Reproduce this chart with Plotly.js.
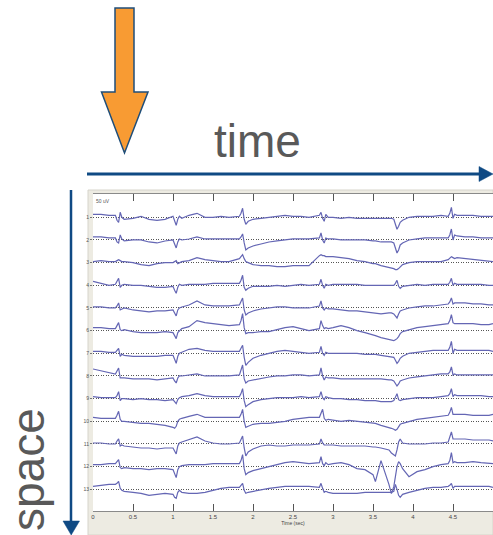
<!DOCTYPE html>
<html>
<head>
<meta charset="utf-8">
<script src="https://cdn.plot.ly/plotly-3.0.1.min.js"></script>
<style>html,body{margin:0;padding:0;background:#fff;overflow:hidden}#chart{width:493px;height:535px}</style>
</head>
<body>
<div id="chart"></div>
<script>
// ---- data (time in sec, signals in display units, up = positive) ----
const T = [0, 0.1, 0.2,
 0.28, 0.30, 0.32, 0.34, 0.36, 0.39,
 0.5, 0.6, 0.7, 0.8, 0.9,
 1.00, 1.02, 1.04, 1.06, 1.08, 1.11,
 1.2, 1.3, 1.4, 1.5, 1.6, 1.7,
 1.83, 1.85, 1.87, 1.89, 1.91, 1.94,
 2.0, 2.1, 2.2, 2.3, 2.4, 2.5, 2.6, 2.7,
 2.83, 2.85, 2.87, 2.89, 2.91, 2.94,
 3.0, 3.1, 3.2, 3.3, 3.4, 3.5, 3.53, 3.6, 3.7, 3.73,
 3.76, 3.78, 3.80, 3.82, 3.84, 3.87,
 3.95, 4.05, 4.15, 4.25, 4.35,
 4.44, 4.46, 4.48, 4.50, 4.52, 4.55,
 4.65, 4.75, 4.85, 4.95, 5.0];

const CH1 = [3,3,2, 2,-3,-5,5,0,-2, -1,1,-2,-3,-2, 1,-4,-8,-2,1,-1, 2,4,0,0,1,0, 1,4,9,-2,-7,-4, -2,-1,0,1,2,1,1,0, 2,5,-1,-4,3,0, 0,-1,0,-1,-1,-1,-1,-1,-1,-1, -2,-6,-12,-9,-5,-3, 0,1,1,1,2, 1,4,10,-1,3,2, 2,2,1,1,1];
const CH2 = [3,3,2, 2,-2,-3,5,1,-1, 0,0,-2,-3,-1, 0,-4,-8,-2,1,0, 1,3,1,1,1,1, 1,3,6,-3,-10,-8, -6,-4,-2,-1,0,1,1,1, 2,7,0,-3,2,1, 1,0,0,0,0,-1,-1,-2,-2,-2, -3,-8,-13,-10,-5,-3, 0,1,2,2,2, 2,5,11,0,5,4, 3,3,2,2,2];
const CH3 = [1,2,1, 1,2,3,2,1,1, 0,-2,-3,-1,0, 0,1,2,-1,0,1, 2,5,3,2,1,1, 4,6,8,4,1,0, -2,-3,-3,-4,-4,-3,-3,-3, 7,8,7,7,6,6, 6,5,4,2,1,-1,-1,-3,-5,-5, -6,-7,-7,-6,-4,-2, 0,1,1,1,1, 3,5,6,5,4,5, 4,3,2,1,1];
const CH4 = [4,2,0, 1,4,7,-2,0,1, 0,0,-1,-2,-2, -1,-5,-8,-2,1,0, 1,1,1,2,2,2, 2,5,10,-2,-5,-3, -1,-1,-1,0,-1,0,1,0, 1,6,0,-3,1,0, 1,1,1,1,0,0,0,0,0,0, 0,2,5,-1,-3,-1, 0,1,0,1,1, 1,3,7,0,2,1, 1,1,1,0,0];
const CH5 = [1,1,0, 0,2,5,-2,-1,0, -2,-3,-4,-3,-3, -2,-5,-8,-2,0,1, 3,7,3,2,2,2, 3,6,10,-2,-7,-5, -3,-1,0,1,1,0,0,0, 2,7,0,-2,0,-1, -1,-2,-3,-3,-4,-5,-5,-6,-5,-5, -6,-8,-10,-6,-3,-2, 0,1,2,2,3, 4,6,10,4,5,5, 5,4,4,3,3];
const CH6 = [3,3,2, 2,5,8,1,0,1, -1,-2,-2,-2,-1, -2,-5,-8,-2,0,2, 4,10,8,7,6,5, 6,10,17,3,-3,-2, -2,-1,-1,1,3,4,2,0, 2,10,5,2,3,2, 3,5,3,0,-2,-4,-5,-7,-9,-10, -10,-9,-8,-6,-3,-1, 1,3,4,5,6, 7,10,16,8,7,7, 7,7,6,6,7];
const CH7 = [2,2,1, 1,3,5,-3,-1,-2, -3,-3,-3,-3,-2, -2,-6,-10,-3,0,1, 4,5,3,2,2,2, 2,5,8,-4,-12,-9, -5,-2,0,2,3,2,1,0, 1,7,0,-2,1,0, 0,0,0,0,-1,-1,-1,-2,-3,-3, -4,-7,-10,-8,-5,-3, 0,1,2,3,3, 3,6,12,0,4,3, 3,3,3,3,2];
const CH8 = [7,5,3, 2,5,8,-2,-2,-2, -3,-3,-3,-4,-3, -2,-5,-7,-2,0,0, 1,2,0,0,0,0, 1,5,11,-3,-7,-5, -4,-2,-1,0,0,1,1,0, 1,8,0,-4,-1,-2, -2,-3,-3,-3,-3,-3,-3,-3,-4,-4, -5,-8,-10,-8,-5,-4, -2,-1,0,1,2, 2,4,9,1,2,1, 1,1,1,1,1];
const CH9 = [2,1,1, 1,3,7,-2,0,0, -1,0,-1,-1,-2, -1,-3,-5,-1,1,2, 3,5,3,2,2,2, 2,5,10,-2,-8,-6, -3,-1,0,1,1,1,2,1, 2,7,1,-1,2,1, 0,0,-1,-1,-2,-2,-2,-3,-3,-3, -2,1,5,-1,-2,-1, 0,1,1,1,2, 3,5,10,2,4,3, 3,3,3,2,2];
const CH10 = [4,3,3, 3,6,10,2,0,0, -1,-2,-2,-3,-4, -6,-7,-5,0,2,3, 5,7,4,4,4,4, 4,7,12,0,-6,-5, -3,-2,-2,-1,0,2,3,4, 4,8,12,3,1,2, 1,0,1,0,-1,-2,-2,-4,-6,-7, -8,-9,-8,-5,-3,-2, 0,2,3,4,5, 6,9,14,7,7,7, 7,6,6,6,7];
const CH11 = [1,1,0, 0,3,5,-2,-1,-2, -3,-4,-4,-5,-4, -4,-7,-10,-2,1,2, 4,7,3,1,0,0, 1,4,8,-4,-12,-8, -5,-2,-1,-2,-2,-1,-1,-1, 0,5,1,-1,-1,-1, -1,-2,-2,-2,-2,-3,-3,-4,-6,-9, -11,-12,-6,2,5,1, 0,0,0,1,1, 2,6,12,5,5,5, 5,4,4,4,3];
const CH12 = [2,2,3, 3,5,7,-1,-2,-1, -2,-2,-3,-2,-2, -3,-7,-11,-3,0,1, 2,2,2,3,3,3, 3,6,12,-2,-8,-6, -4,-2,0,2,4,5,4,3, 4,10,3,1,4,2, 3,4,2,-2,-3,-8,-15,6,-18,-27, -20,-10,0,5,3,-2, -10,-5,-3,0,2, 3,6,14,4,5,4, 4,5,4,3,3];
const CH13 = [3,4,5, 5,6,8,1,-1,-2, -3,-4,-6,-5,-4, -5,-8,-9,-3,-1,-3, -4,-4,-3,-1,1,2, 2,4,6,-1,-4,-3, -2,-1,1,2,3,3,3,3, 2,6,1,-3,-2,-3, -4,-4,-4,-4,-3,-3,-3,-3,-3,-3, -2,5,0,-6,-8,-5, -3,-1,1,2,2, 3,4,6,1,3,3, 3,3,3,3,2];

const CHANNEL_LABELS = ['1','2','3','4','5','6','7','8','9','10','11','12','13'];
const X_TICKS = [0, 0.5, 1, 1.5, 2, 2.5, 3, 3.5, 4, 4.5, 5];
const X_TICK_LABELS = ['0','0.5','1','1.5','2','2.5','3','3.5','4','4.5','5'];

// ---- layout helpers ----
const W = 493, H = 535;
const SPACING = 22.67;
const px = x => x / W;
const py = y => 1 - y / H;
const channels = [CH1,CH2,CH3,CH4,CH5,CH6,CH7,CH8,CH9,CH10,CH11,CH12,CH13];

const traces = channels.map((vals, i) => ({
  type: 'scatter', mode: 'lines', x: T,
  y: vals.map(v => -(i + 1) * SPACING + v),
  line: {color: '#6466b4', width: 1.2},
  hoverinfo: 'skip', showlegend: false
}));

const tickVals = CHANNEL_LABELS.map((_, i) => -(i + 1) * SPACING);

const ARROW_BLUE = '#0f4a84';
const shapes = [
  {type:'rect', xref:'paper', yref:'paper', x0:px(88), x1:px(493), y0:py(535), y1:py(190),
   fillcolor:'#edebe2', line:{color:'#d6d4cb', width:1}, layer:'below'},
  {type:'rect', xref:'paper', yref:'paper', x0:px(93), x1:px(494), y0:py(511), y1:py(194),
   fillcolor:'#ffffff', line:{width:0}, layer:'below'},
  // orange arrow
  {type:'path', xref:'paper', yref:'paper', layer:'above',
   path:`M${px(115)},${py(8)} L${px(134)},${py(8)} L${px(134)},${py(92)} L${px(148)},${py(92)} L${px(124.5)},${py(153)} L${px(101.5)},${py(92)} L${px(115)},${py(92)} Z`,
   fillcolor:'#f89b33', line:{color:'#1f4e79', width:1.5}},
  // time arrow
  {type:'line', xref:'paper', yref:'paper', layer:'above', x0:px(87), x1:px(481), y0:py(174), y1:py(174),
   line:{color:ARROW_BLUE, width:3}},
  {type:'path', xref:'paper', yref:'paper', layer:'above',
   path:`M${px(479)},${py(166.5)} L${px(493)},${py(174)} L${px(479)},${py(181.5)} Z`,
   fillcolor:ARROW_BLUE, line:{color:ARROW_BLUE, width:0.5}},
  // space arrow
  {type:'line', xref:'paper', yref:'paper', layer:'above', x0:px(71), x1:px(71), y0:py(190), y1:py(523),
   line:{color:ARROW_BLUE, width:2.5}},
  {type:'path', xref:'paper', yref:'paper', layer:'above',
   path:`M${px(63)},${py(521)} L${px(71.2)},${py(535)} L${px(79.5)},${py(521)} Z`,
   fillcolor:ARROW_BLUE, line:{color:ARROW_BLUE, width:0.5}}
];

const annotations = [
  {xref:'paper', yref:'paper', x:px(257), y:py(141), text:'time', showarrow:false,
   xanchor:'center', yanchor:'middle', font:{family:'Liberation Sans, Arial, sans-serif', size:46, color:'#595959'}},
  {xref:'paper', yref:'paper', x:px(28), y:py(470), text:'space', showarrow:false, textangle:-90,
   xanchor:'center', yanchor:'middle', font:{family:'Liberation Sans, Arial, sans-serif', size:46, color:'#595959'}},
  {xref:'paper', yref:'paper', x:px(94), y:py(201), text:'50 uV', showarrow:false,
   xanchor:'left', yanchor:'middle', font:{family:'Arial, sans-serif', size:5, color:'#555'}}
];

const layout = {
  width: W, height: H,
  margin: {l:0, r:0, t:0, b:0, pad:0},
  paper_bgcolor: '#ffffff', plot_bgcolor: 'rgba(0,0,0,0)',
  showlegend: false,
  xaxis: {
    domain: [px(93), 1], range: [0, 5], fixedrange: true,
    tickvals: X_TICKS, ticktext: X_TICK_LABELS,
    ticks: 'inside', ticklen: 7, tickcolor: '#555', tickwidth: 1,
    showline: true, linecolor: '#8a8a8a', linewidth: 1, mirror: 'ticks',
    showgrid: false, zeroline: false,
    tickfont: {family:'Arial, sans-serif', size:6, color:'#444'},
    title: {text:'Time (sec)', font:{family:'Arial, sans-serif', size:5, color:'#444'}, standoff:2}
  },
  yaxis: {
    domain: [py(511), py(194)], range: [-316.4, 0.63], fixedrange: true,
    tickvals: tickVals, ticktext: CHANNEL_LABELS,
    ticks: 'outside', ticklen: 2, tickcolor: '#777',
    tickfont: {family:'Arial, sans-serif', size:5, color:'#555'},
    showgrid: true, gridcolor: '#555555', gridwidth: 1, griddash: '1px,1.5px',
    showline: false, zeroline: false
  },
  shapes: shapes,
  annotations: annotations
};

Plotly.newPlot('chart', traces, layout, {staticPlot:true, displayModeBar:false});
</script>
</body>
</html>
